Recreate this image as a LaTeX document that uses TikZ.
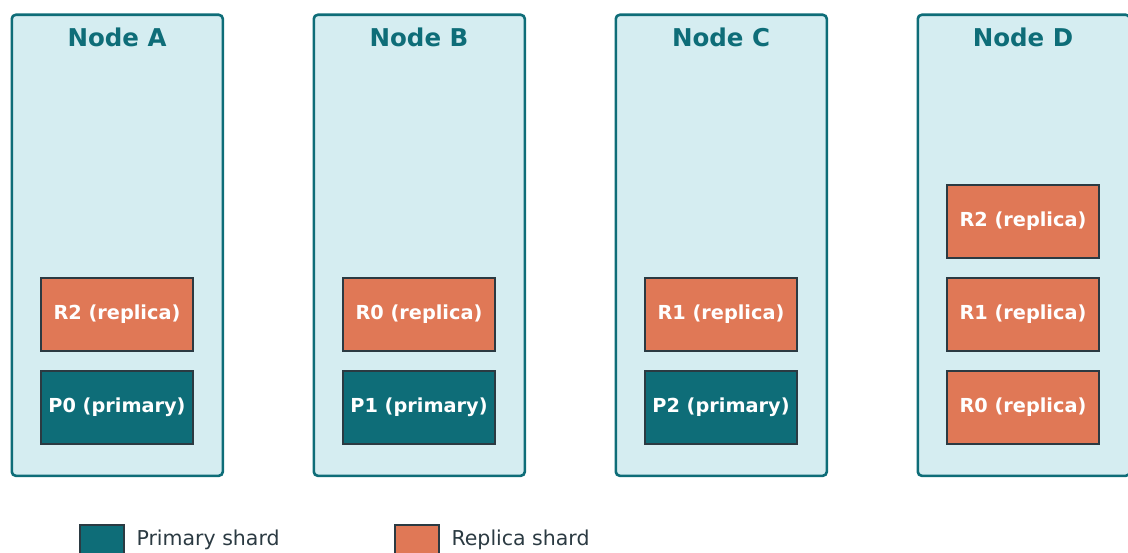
\documentclass[tikz,border=0pt]{standalone}
\usepackage{fontspec}
\setmainfont{DejaVu Sans}
\definecolor{teal}{HTML}{0E6D78}
\definecolor{lightbg}{HTML}{D5EDF1}
\definecolor{orng}{HTML}{E07856}
\definecolor{dark}{HTML}{2B3A42}
\tikzset{
  container/.style={draw=teal, line width=2.6pt, fill=lightbg, rounded corners=4pt, minimum width=211pt, minimum height=461pt, inner sep=0pt, anchor=north west},
  ttl/.style={text=teal, font=\bfseries\fontsize{24.5}{27}\selectfont, anchor=center},
  shard/.style={draw=dark, line width=2pt, minimum width=152pt, minimum height=73pt, inner sep=0pt, text=white, font=\bfseries\fontsize{19.3}{22}\selectfont},
  prim/.style={shard, fill=teal},
  repl/.style={shard, fill=orng},
  legbox/.style={draw=dark, line width=2pt, minimum width=44pt, minimum height=44pt, inner sep=0pt, anchor=north west},
  legtxt/.style={text=dark, font=\fontsize{20.5}{23}\selectfont, anchor=west}
}
\begin{document}
\begin{tikzpicture}[x=1pt,y=-1pt]
\useasboundingbox (0,0) rectangle (1128,553);
\clip (0,0) rectangle (1128,553);
\node[container] (na) at (10.5,13.5) {};
\node[container] (nb) at (312.5,13.5) {};
\node[container] (nc) at (614.5,13.5) {};
\node[container, minimum width=212pt] (nd) at (916.5,13.5) {};
\node[ttl] (ta) at (117,37) {Node A};
\node[ttl] (tb) at (419,37) {Node B};
\node[ttl] (tc) at (721,37) {Node C};
\node[ttl] (td) at (1023,37) {Node D};
\node[repl] (a1) at (117,314.5) {R2 (replica)};
\node[prim] (a2) at (117,407.5) {P0 (primary)};
\node[repl] (b1) at (419,314.5) {R0 (replica)};
\node[prim] (b2) at (419,407.5) {P1 (primary)};
\node[repl] (c1) at (721,314.5) {R1 (replica)};
\node[prim] (c2) at (721,407.5) {P2 (primary)};
\node[repl] (d0) at (1023,221.5) {R2 (replica)};
\node[repl] (d1) at (1023,314.5) {R1 (replica)};
\node[repl] (d2) at (1023,407.5) {R0 (replica)};
\node[legbox, fill=teal] (lp) at (79,524) {};
\node[legtxt] (lpt) at (133,540) {Primary shard};
\node[legbox, fill=orng] (lr) at (394,524) {};
\node[legtxt] (lrt) at (448,540) {Replica shard};
\end{tikzpicture}
\end{document}
